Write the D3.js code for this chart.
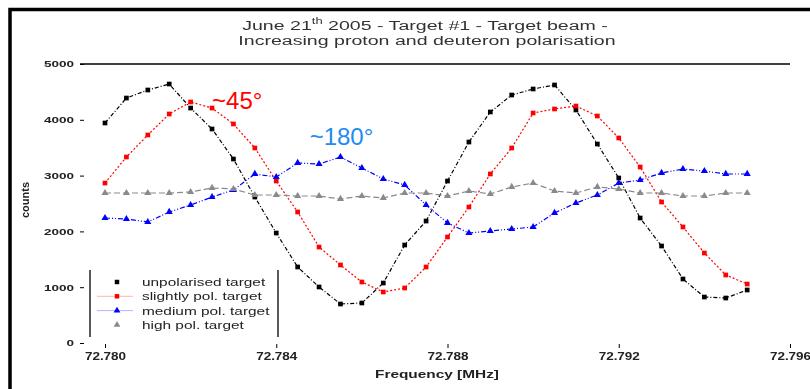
<!DOCTYPE html>
<html>
<head>
<meta charset="utf-8">
<script src="https://cdn.jsdelivr.net/npm/d3@7"></script>
<style>
  html, body { margin: 0; padding: 0; background: #fff; }
  svg { display: block; font-family: "Liberation Sans", Arial, sans-serif; }
</style>
</head>
<body>
<svg id="chart" width="810" height="389"></svg>
<script>
// Scan frequencies (MHz), one point every 0.5 kHz
const frequencies = d3.range(31).map(i => +(72.780 + i * 0.0005).toFixed(4));

// Signal intensity for each target polarisation state
const unpolarised = [3943, 4390, 4534, 4641, 4211, 3835, 3297, 2616, 1971, 1362,
  1004, 699, 717, 1075, 1756, 2186, 2903, 3602, 4140, 4444,
  4552, 4624, 4176, 3566, 2957, 2240, 1738, 1147, 824, 806, 950];
const slightlyPol = [2867, 3333, 3728, 4104, 4319, 4211, 3925, 3495, 2903, 2348,
  1720, 1398, 1093, 914, 986, 1362, 1900, 2437, 3029, 3495,
  4122, 4194, 4247, 4068, 3674, 3154, 2527, 2079, 1613, 1219, 1057];
const mediumPol = [2240, 2222, 2168, 2348, 2473, 2616, 2742, 3029, 2975, 3226,
  3208, 3333, 3136, 2939, 2832, 2473, 2151, 1971, 2007, 2043,
  2079, 2330, 2509, 2652, 2867, 2921, 3047, 3118, 3082, 3029, 3029];
const highPol = [2688, 2688, 2688, 2688, 2706, 2778, 2760, 2652, 2652, 2634,
  2634, 2581, 2634, 2599, 2688, 2688, 2634, 2724, 2670, 2796,
  2867, 2724, 2688, 2796, 2760, 2688, 2688, 2634, 2634, 2688, 2688];

const seriesNames = ["unpolarised target", "slightly pol. target", "medium pol. target", "high pol. target"];
const seriesValues = [unpolarised, slightlyPol, mediumPol, highPol];

const xTicks = [72.780, 72.784, 72.788, 72.792, 72.796];
const yTicks = [0, 1000, 2000, 3000, 4000, 5000];

const titleLines = ["June 21", "th", " 2005 - Target #1 - Target beam -", "Increasing proton and deuteron polarisation"];
const phaseNotes = [
  { text: "~45\u00B0", at: [72.7825, 4200], color: "#ff0000" },
  { text: "~180\u00B0", at: [72.78478, 3540], color: "#1e8cf0" }
];

const styles = [
  { color: "#000000", dash: "4,2,1,2", symbol: d3.symbolSquare },
  { color: "#ff0000", dash: "2,2", symbol: d3.symbolSquare },
  { color: "#0000ff", dash: "5,2,1,2,1,2", symbol: d3.symbolTriangle },
  { color: "#8a8a8a", dash: "6,3", symbol: d3.symbolTriangle }
];

// widen text horizontally about its anchor point
function stretch(sel, sx) {
  sel.each(function () {
    const t = d3.select(this);
    const x0 = +t.attr("x") || 0;
    t.attr("x", x0 / sx).attr("transform", `scale(${sx},1)`);
  });
}

const svg = d3.select("#chart");

const defs = svg.append("defs");
defs.append("filter").attr("id", "soft")
  .append("feGaussianBlur").attr("stdDeviation", 0.6);

const x = d3.scaleLinear().domain([72.780, 72.796]).range([105, 790]);
const y = d3.scaleLinear().domain([0, 5000]).range([343, 64]);

const body = svg.append("g").attr("filter", "url(#soft)");

// outer frame
body.append("rect")
  .attr("x", 10).attr("y", 9.5).attr("width", 840).attr("height", 420)
  .attr("fill", "none").attr("stroke", "#000").attr("stroke-width", 3.5);

// title
const t1 = body.append("text")
  .attr("x", 425).attr("y", 30)
  .attr("text-anchor", "middle")
  .attr("font-size", 13.5).attr("fill", "#333");
t1.append("tspan").text(titleLines[0]);
t1.append("tspan").attr("dy", -6).attr("font-size", 9).text(titleLines[1]);
t1.append("tspan").attr("dy", 6).text(titleLines[2]);
const t2 = body.append("text")
  .attr("x", 427).attr("y", 45)
  .attr("text-anchor", "middle")
  .attr("font-size", 13.5).attr("fill", "#333")
  .text(titleLines[3]);
stretch(t1, 1.45);
stretch(t2, 1.45);

// top reference line
body.append("line")
  .attr("x1", 80).attr("x2", 790)
  .attr("y1", y(5000)).attr("y2", y(5000))
  .attr("stroke", "#000").attr("stroke-width", 1.3);

// y axis
const yAxis = body.append("g")
  .attr("transform", "translate(84,0)")
  .call(d3.axisLeft(y).tickValues(yTicks).tickSize(4).tickPadding(6)
    .tickFormat(d3.format("d")));
yAxis.select(".domain").remove();
yAxis.selectAll("text").attr("font-size", 9).attr("font-weight", "bold")
  .attr("fill", "#222").attr("font-family", "Liberation Sans, Arial, sans-serif");
stretch(yAxis.selectAll("text"), 1.5);
yAxis.selectAll("line").attr("stroke", "#000");

// x axis
const xAxis = body.append("g")
  .attr("transform", "translate(0,344)")
  .call(d3.axisBottom(x).tickValues(xTicks).tickSize(4).tickPadding(5)
    .tickFormat(d3.format(".3f")));
xAxis.select(".domain").remove();
xAxis.selectAll("text").attr("font-size", 10).attr("font-weight", "bold")
  .attr("fill", "#222").attr("font-family", "Liberation Sans, Arial, sans-serif");
stretch(xAxis.selectAll("text"), 1.35);
xAxis.selectAll("line").attr("stroke", "#000");

// axis titles
const xTitle = body.append("text")
  .attr("x", 437).attr("y", 378)
  .attr("text-anchor", "middle")
  .attr("font-size", 11.5).attr("font-weight", "bold").attr("fill", "#222")
  .text("Frequency [MHz]");
stretch(xTitle, 1.34);
body.append("text")
  .attr("transform", "translate(29,200) rotate(-90)")
  .attr("text-anchor", "middle")
  .attr("font-size", 11).attr("font-weight", "bold").attr("fill", "#222")
  .text("counts");

// series
const line = d3.line()
  .x((d, i) => x(frequencies[i]))
  .y(d => y(d));

seriesValues.forEach((vals, s) => {
  const st = styles[s];
  const g = body.append("g");
  g.append("path")
    .datum(vals)
    .attr("d", line)
    .attr("fill", "none")
    .attr("stroke", st.color)
    .attr("stroke-width", 1.2)
    .attr("stroke-dasharray", st.dash);
  g.selectAll("path.mark")
    .data(vals)
    .join("path")
    .attr("class", "mark")
    .attr("transform", (d, i) => `translate(${x(frequencies[i])},${y(d)})`)
    .attr("d", d3.symbol().type(st.symbol).size(22))
    .attr("fill", st.color);
});

// legend
const legend = body.append("g");
[90, 278].forEach(lx => {
  legend.append("line")
    .attr("x1", lx).attr("x2", lx).attr("y1", 270).attr("y2", 337)
    .attr("stroke", "#222").attr("stroke-width", 1.5);
});
seriesNames.forEach((name, s) => {
  const st = styles[s];
  const ly = 282 + s * 14.3;
  if (s === 1 || s === 2) {
    legend.append("line")
      .attr("x1", 97).attr("x2", 133).attr("y1", ly).attr("y2", ly)
      .attr("stroke", st.color).attr("stroke-opacity", 0.3).attr("stroke-width", 1);
  }
  legend.append("path")
    .attr("transform", `translate(117,${ly})`)
    .attr("d", d3.symbol().type(st.symbol).size(20))
    .attr("fill", st.color);
  const lt = legend.append("text")
    .attr("x", 142).attr("y", ly + 4)
    .attr("font-size", 11.5).attr("fill", "#222")
    .text(name);
  stretch(lt, 1.34);
});

// phase annotations (drawn crisp)
phaseNotes.forEach(n => {
  svg.append("text")
    .attr("x", x(n.at[0])).attr("y", y(n.at[1]))
    .attr("font-size", 24).attr("fill", n.color)
    .text(n.text);
});
</script>
</body>
</html>
